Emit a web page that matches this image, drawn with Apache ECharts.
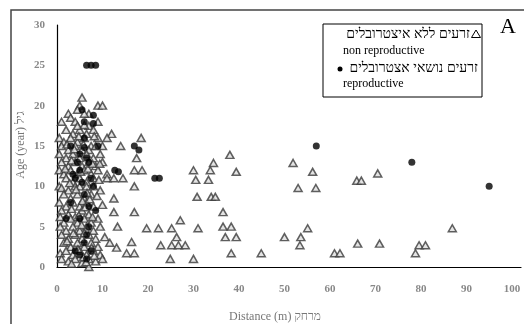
<!DOCTYPE html>
<html><head><meta charset="utf-8">
<script src="https://cdn.jsdelivr.net/npm/echarts@6/dist/echarts.min.js"></script>
<style>html,body{margin:0;padding:0;background:#fff}#c{width:524px;height:324px}</style>
</head><body><div id="c"></div>
<script>
// Distance (m), Age (year)
const nonReproductive = [
 [5.5,21],[5,20],[4.5,19.5],[9,20],[10,20],[7,19],
 [2.5,19],[3,18.5],[6,19],[1,18],[4,18],[7,17.5],[9,18],
 [2,17],[3.5,16.5],[5,17],[6.5,16.5],[8,17],[12,16.5],
 [0.5,16],[1.5,15.5],[3,16],[4.5,15.5],[6,16],[7.5,15],[9,16],[11,16],
 [1,15],[2.5,14.5],[4,15],[5.5,14.5],[7,14.5],[8.5,15],[10,15],[14,15],
 [0.5,14],[2,13.5],[3.5,14],[5,13.5],[6.5,14],[8,13.5],[9.5,14],[17.5,13.5],[18.5,16],
 [1,13],[2.5,12.5],[4,13],[5.5,12.5],[7,13],[8.5,12.5],[10,13],
 [0.5,12],[1.5,11.5],[3,12],[4.5,11.5],[6,12],[7.5,11.5],[9,12],[11,11.5],[17,12],[18.7,12],
 [2,11],[3.5,10.5],[5,11],[6.5,10.5],[8,11],[11,11],[12.5,11],[14.5,11],
 [0.5,10],[1,9.8],[2.5,9.5],[4,10],[5,10],[6.5,10],[8,10],[9.5,9.5],[17,10],
 [1.5,9],[3,8.5],[4.5,9],[6,8.5],[7.5,9],[12.5,8.5],
 [0.5,8],[2,7.5],[3.5,8],[5,7.5],[6.5,8],[8,7.5],[10,7.7],
 [1,7],[2.5,6.5],[4,6.2],[5.5,7],[7,6.5],[12.5,6.8],[17,6.8],[0.7,6.2],
 [1.5,5.5],[3,6],[4.5,5.5],[6,6],[7.5,5.5],[9,6],
 [0.7,5],[2,4.5],[3.5,5],[5,4.5],[6.5,5],[8,4.5],[9.5,5],[13.3,5],
 [1,4],[2.5,3.5],[4,4],[5.5,3.5],[7,4],[8.5,3.5],[10.5,3.7],
 [1.5,3],[3,2.5],[4.5,3],[6,2.5],[7.5,3],[9,2.5],[11.6,3],[13.1,2.4],[16.4,3.1],
 [0.7,1.7],[2,2],[3.5,1.5],[5,2],[6.5,1.5],[8,2],[9.5,1.5],[15.3,1.7],[17,1.7],
 [1,1],[2.5,0.7],[4,1],[5.5,0.5],[7,1],[8.5,0.7],[10,1],[7,0],
 [4.5,17.5],[5.8,15.2],[3.8,14.6],[6.8,12.2],[5.2,11.8],[4.2,9.6],[7.2,8.4],[5.6,8.2],
 [3.2,7.2],[6.2,7.4],[4.8,6.4],[7.8,6.2],[3.6,4.2],[6,4.2],[7.6,2.4],[4.6,2.2],[5.8,1.2],
 [3.2,0.4],[6.4,0.6],[8.2,1.4],[2.2,3.2],[8.8,8.8],[9.2,10.8],[2.8,10.4],[7.8,12.8],[3.2,13.2],
 [6,17.6],[8.2,16.2],[4.8,16.2],[2.2,15.2],[9.4,12.8],[1.8,12.2],[6.6,9.2],[5.4,5.2],
 [19.7,4.8],[22.3,4.8],[25.2,4.8],[27.1,5.8],[31,4.8],
 [22.8,2.7],[25.2,2.7],[26.7,2.7],[28.2,2.7],[26.3,3.7],[24.9,1],[30,1],
 [30,12],[30.5,10.8],[33.7,12],[34.4,12.9],[30.8,8.7],[33.9,8.7],
 [38,13.9],[39.4,11.8],[33.3,10.8],[34.8,8.7],[36.5,6.8],[36.5,5],[38.3,5],
 [37,3.7],[39.4,3.7],[38.3,1.7],[44.9,1.7],
 [51.9,12.9],[56.2,11.8],[53,9.8],[56.9,9.8],[50,3.7],[53.6,3.7],[55.1,4.8],[53.4,2.7],
 [61,1.7],[62.2,1.7],[66.1,2.9],[70.9,2.9],[65.9,10.7],[66.9,10.7],[70.5,11.6],
 [78.8,1.7],[79.6,2.7],[81,2.7],[86.9,4.8]
];
const reproductive = [
 [6.5,25],[7.5,25],[8.5,25],[5.5,19.5],[8,18.8],[8,17.8],[6,18],[5,14],[7,13],
 [4,11],[6,9],[8.5,7],[5,12],[3,8],[6,3],[7,5],[4,2],[6.5,1],[12.7,12],[13.5,11.8],
 [17,15],[18,14.5],[21.5,11],[22.5,11],[57,15],[78,13],[95,10],[9,15],[2,6],[6,16],[8,10],[6.5,13.5],[3.5,11.5],
 [5.5,10.5],[7,7.5],[5,6],[6.5,4],[5,1.5],[7.5,2],[4.5,13],[7.5,11],[3,15],[6,14.8]
];
const xTicks = {min:0, max:102, interval:10};
const yTicks = {min:0, max:30, interval:5};
const legendLine1 = 'זרעים ללא איצטרובלים';
const legendLine2 = 'non reproductive';
const legendLine3 = 'זרעים נושאי אצטרובלים';
const legendLine4 = 'reproductive';
const xTitle = 'Distance (m) מרחק';
const yTitle = 'Age (year) גיל';
const panelLabel = 'A';

const serif = '"Liberation Serif","DejaVu Serif",serif';
const chart = echarts.init(document.getElementById('c'), null, {renderer:'canvas'});
chart.setOption({
  animation:false,
  backgroundColor:'#fff',
  grid:{left:57, right:0, top:25, bottom:57},
  xAxis:{type:'value', min:xTicks.min, max:xTicks.max, interval:xTicks.interval,
    axisLine:{lineStyle:{color:'#000', width:1.2}}, axisTick:{show:false}, splitLine:{show:false},
    axisLabel:{color:'#888', fontFamily:serif, fontSize:11, fontWeight:'bold', margin:17,
      formatter:v=> v>100 ? '' : String(v)}},
  yAxis:{type:'value', min:yTicks.min, max:yTicks.max, interval:yTicks.interval,
    axisLine:{show:true, lineStyle:{color:'#000', width:1.2}}, axisTick:{show:false}, splitLine:{show:false},
    axisLabel:{color:'#888', fontFamily:serif, fontSize:11, fontWeight:'bold', margin:12}},
  series:[
    {type:'scatter', data:nonReproductive, symbol:'triangle', symbolSize:[8,7],
     itemStyle:{color:'#ddd', borderColor:'#3a3a3a', borderWidth:1.5}},
    {type:'scatter', data:reproductive, symbol:'circle', symbolSize:7,
     itemStyle:{color:'#000'}}
  ],
  graphic:[
    {type:'rect', shape:{x:11, y:10, width:700, height:500}, style:{fill:null, stroke:'#444', lineWidth:1.5}, silent:true},
    {type:'text', x:275, y:317, style:{text:xTitle, fill:'#777', font:'12px '+serif, textAlign:'center', textVerticalAlign:'middle'}},
    {type:'text', x:21, y:145, rotation:Math.PI/2, style:{text:yTitle, fill:'#777', font:'12px '+serif, textAlign:'center', textVerticalAlign:'middle'}},
    {type:'text', x:508, y:27, style:{text:panelLabel, fill:'#000', font:'22px '+serif, textAlign:'center', textVerticalAlign:'middle'}},
    {type:'rect', shape:{x:323, y:24, width:159, height:73}, style:{fill:'#fff', stroke:'#000', lineWidth:1}},
    {type:'text', x:470, y:34, style:{text:legendLine1, fill:'#000', font:'14px '+serif, textAlign:'right', textVerticalAlign:'middle'}},
    {type:'polygon', shape:{points:[[476,30],[480.5,37.5],[471.5,37.5]]}, style:{fill:'#fff', stroke:'#000', lineWidth:1}},
    {type:'text', x:343, y:51, style:{text:legendLine2, fill:'#000', font:'12px '+serif, textAlign:'left', textVerticalAlign:'middle'}},
    {type:'circle', shape:{cx:340, cy:69, r:2.5}, style:{fill:'#000'}},
    {type:'text', x:478, y:68, style:{text:legendLine3, fill:'#000', font:'14px '+serif, textAlign:'right', textVerticalAlign:'middle'}},
    {type:'text', x:343, y:84, style:{text:legendLine4, fill:'#000', font:'12px '+serif, textAlign:'left', textVerticalAlign:'middle'}}
  ]
});
</script></body></html>
